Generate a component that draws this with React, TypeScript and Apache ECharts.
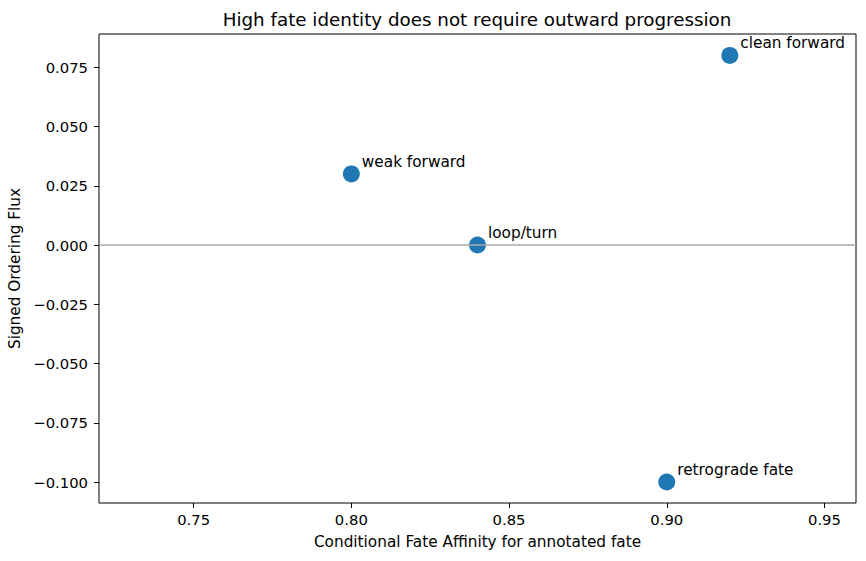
import React, { useEffect, useRef } from "react";
import * as echarts from "echarts";

const labels = ["clean forward", "weak forward", "loop/turn", "retrograde fate"];
const affinity = [0.92, 0.8, 0.84, 0.9];
const flux = [0.08, 0.03, 0.0, -0.1];
const xTicks = [0.75, 0.8, 0.85, 0.9, 0.95];
const yTicks = [0.075, 0.05, 0.025, 0.0, -0.025, -0.05, -0.075, -0.1];

const FONT = "DejaVu Sans";

const fmt = (v: number, d: number) => {
  const s = Math.abs(v).toFixed(d);
  return v < -1e-12 ? "\u2212" + s : s;
};

export default function App() {
  const ref = useRef<HTMLDivElement>(null);
  useEffect(() => {
    if (!ref.current) return;
    const chart = echarts.init(ref.current, undefined, { renderer: "svg" });
    const points = affinity.map((x, i) => ({ value: [x, flux[i]], name: labels[i] }));
    chart.setOption({
      animation: false,
      backgroundColor: "#ffffff",
      title: {
        text: "High fate identity does not require outward progression",
        left: 477,
        top: 10,
        padding: 0,
        textAlign: "center",
        textStyle: { fontFamily: FONT, fontSize: 18.3, fontWeight: "normal", color: "#000" },
      },
      grid: {
        left: 99,
        top: 34,
        width: 757,
        height: 469,
        containLabel: false,
        outerBoundsMode: "none",
        show: true,
        borderColor: "#000",
        borderWidth: 1,
        backgroundColor: "transparent",
      },
      xAxis: {
        type: "value",
        min: 0.72,
        max: 0.96,
        name: "Conditional Fate Affinity for annotated fate",
        nameLocation: "middle",
        nameGap: 31,
        nameTextStyle: { fontFamily: FONT, fontSize: 15.3, color: "#000" },
        axisLine: { show: false, onZero: false },
        axisTick: { show: true, length: 5, inside: false, customValues: xTicks, lineStyle: { color: "#000" } },
        axisLabel: {
          customValues: xTicks,
          formatter: (v: number) => fmt(v, 2),
          fontFamily: FONT,
          fontSize: 14.8,
          color: "#000",
          margin: 9,
        },
        splitLine: { show: false },
      },
      yAxis: {
        type: "value",
        min: -0.10886,
        max: 0.08903,
        name: "Signed Ordering Flux",
        nameLocation: "middle",
        nameGap: 77,
        nameTextStyle: { fontFamily: FONT, fontSize: 15.3, color: "#000" },
        axisLine: { show: false, onZero: false },
        axisTick: { show: true, length: 5, inside: false, customValues: yTicks, lineStyle: { color: "#000" } },
        axisLabel: {
          customValues: yTicks,
          formatter: (v: number) => fmt(v, 3),
          fontFamily: FONT,
          fontSize: 14.8,
          color: "#000",
          margin: 11,
        },
        splitLine: { show: false },
      },
      series: [
        {
          type: "scatter",
          data: points,
          symbolSize: 17,
          itemStyle: { color: "#1f77b4", opacity: 1 },
          label: {
            show: true,
            formatter: (p: any) => p.name,
            position: [19, -3.5],
            align: "left",
            verticalAlign: "middle",
            fontFamily: FONT,
            fontSize: 15.3,
            color: "#000",
          },
          markLine: {
            silent: true,
            symbol: "none",
            label: { show: false },
            lineStyle: { color: "#a9a9a9", width: 1.5, type: "solid" },
            data: [{ yAxis: 0 }],
          },
          z: 3,
        },
      ],
    });
    return () => chart.dispose();
  }, []);
  return (
    <div
      ref={ref}
      style={{ position: "fixed", left: 0, top: 0, width: 866, height: 561, background: "#fff" }}
    />
  );
}
